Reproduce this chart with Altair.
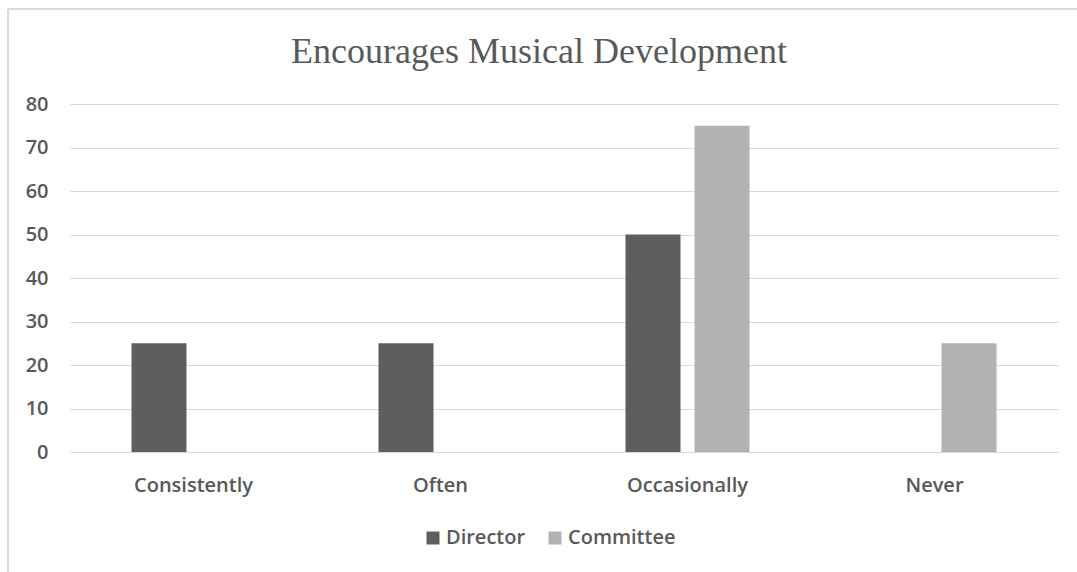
import altair as alt
import pandas as pd

title_text = "Encourages Musical Development"
categories = ["Consistently", "Often", "Occasionally", "Never"]
series = ["Director", "Committee"]
director = [25, 25, 50, 0]
committee = [0, 0, 75, 25]
colors = ["#5e5e5e", "#b2b2b2"]
y_ticks = [0, 10, 20, 30, 40, 50, 60, 70, 80]

rows = []
for i, c in enumerate(categories):
    rows.append({"Category": c, "Series": "Director", "Value": director[i]})
    rows.append({"Category": c, "Series": "Committee", "Value": committee[i]})
df = pd.DataFrame(rows)

label_font = "Open Sans"
text_color = "#595959"

bars = alt.Chart(df).mark_bar().encode(
    x=alt.X("Category:N", sort=categories,
            scale=alt.Scale(paddingInner=0, paddingOuter=0),
            axis=alt.Axis(title=None, labelAngle=0, ticks=False, domain=False,
                          labelFontSize=20, labelFont=label_font, labelColor=text_color,
                          labelFontWeight=600,
                          labelPadding=23, grid=False)),
    xOffset=alt.XOffset("Series:N", sort=series,
                        scale=alt.Scale(paddingInner=0.203, paddingOuter=0.891)),
    y=alt.Y("Value:Q", scale=alt.Scale(domain=[0, 80]),
            axis=alt.Axis(title=None, values=y_ticks, ticks=False, domain=False,
                          labelFontSize=20, labelFont=label_font, labelColor=text_color,
                          labelFontWeight=600,
                          labelPadding=22, gridColor="#d9d9d9", gridWidth=1.2)),
    color=alt.Color("Series:N", sort=series,
                    scale=alt.Scale(domain=series, range=colors),
                    legend=alt.Legend(title=None, orient="none", direction="horizontal",
                                      legendX=353, legendY=424,
                                      symbolType="square", symbolSize=169,
                                      symbolStrokeWidth=0, labelOffset=3,
                                      columnPadding=19,
                                      labelFontSize=20, labelFont=label_font,
                                      labelFontWeight=600,
                                      labelColor=text_color)),
)

border_top = alt.Chart(df).mark_rule(color="#d9d9d9", strokeWidth=1.5).encode(
    x=alt.value(-62), x2=alt.value(1019), y=alt.value(-95)
)
border_left = alt.Chart(df).mark_rule(color="#d9d9d9", strokeWidth=1.5).encode(
    x=alt.value(-62), y=alt.value(-95), y2=alt.value(470)
)

title = alt.Chart(pd.DataFrame({"t": [title_text]})).mark_text(
    font="Liberation Serif", fontSize=36, color=text_color,
    align="center", baseline="alphabetic"
).encode(text="t:N", x=alt.value(469), y=alt.value(-41))

chart = alt.layer(border_top, border_left, bars, title).properties(
    width=988, height=348,
    background="white",
    autosize=alt.AutoSizeParams(type="none"),
    padding={"left": 70, "top": 104, "right": 19, "bottom": 120},
).configure_view(strokeOpacity=0, strokeWidth=0)

chart.save("out.html", embed_options={"renderer": "svg", "actions": False})
